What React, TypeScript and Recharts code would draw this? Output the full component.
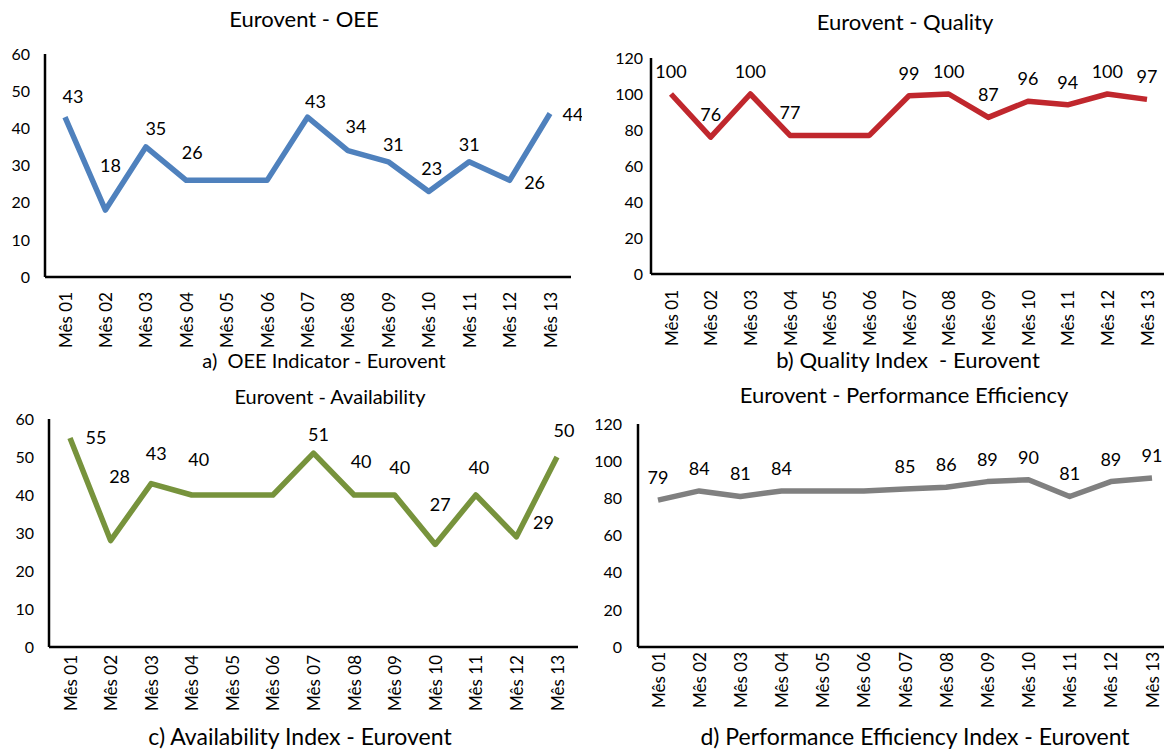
import React from 'react';
import { LineChart, Line, XAxis, YAxis, LabelList } from 'recharts';

const MONTHS = ['Mês 01', 'Mês 02', 'Mês 03', 'Mês 04', 'Mês 05', 'Mês 06', 'Mês 07', 'Mês 08', 'Mês 09', 'Mês 10', 'Mês 11', 'Mês 12', 'Mês 13'];
const OEE = [43, 18, 35, 26, 26, 26, 43, 34, 31, 23, 31, 26, 44];
const QUALITY = [100, 76, 100, 77, 77, 77, 99, 100, 87, 96, 94, 100, 97];
const AVAILABILITY = [55, 28, 43, 40, 40, 40, 51, 40, 40, 27, 40, 29, 50];
const PERFORMANCE = [79, 84, 81, 84, 84, 84, 85, 86, 89, 90, 81, 89, 91];
const TICKS_60 = [0, 10, 20, 30, 40, 50, 60];
const TICKS_120 = [0, 20, 40, 60, 80, 100, 120];
const UNLABELED = ['Mês 05', 'Mês 06'];

// label placement (dx, dy) relative to each point
const OEE_LABEL_POS = [[8, -21], [5, -45], [10, -19], [6, -28], [0, 0], [0, 0], [8, -16], [8, -25], [5, -18], [3, -24], [0, -18], [25, 2], [23, 1]];
const AVAIL_LABEL_POS = [[26, -1], [9, -65], [5, -31], [7, -36], [0, 0], [0, 0], [5, -19], [7, -34], [5, -28], [5, -40], [3, -28], [27, -15], [7, -27]];
const TOP_LABEL_POS = MONTHS.map(() => [0, -23]);

const FONT = 'Lato, "Open Sans", sans-serif';

const makeData = (values: number[]) => MONTHS.map((m, i) => ({ month: m, value: values[i] }));

const RotTick = (props: any) => {
  const { x, y, payload } = props;
  return (
    <text x={x} y={y} transform={`rotate(-90, ${x}, ${y})`} textAnchor="end" dominantBaseline="central" fontSize={17} fill="#000" fontFamily={FONT}>
      {payload.value}
    </text>
  );
};

const makeLabel = (pos: number[][]) => (props: any) => {
  const { x, y, value, index } = props;
  if (UNLABELED.includes(MONTHS[index])) return null;
  const [dx, dy] = pos[index];
  return (
    <text x={x + dx} y={y + dy} textAnchor="middle" dominantBaseline="central" fontSize={18} fill="#000" fontFamily={FONT}>
      {value}
    </text>
  );
};

type Panel = {
  values: number[];
  color: string;
  ticks: number[];
  domain: [number, number];
  title: string;
  caption: string;
  box: { left: number; top: number; width: number; height: number };
  yWidth: number;
  margin: { top: number; right: number; bottom: number; left: number };
  pad: { left: number; right: number };
  yGap: number;
  xGap: number;
  labelPos: number[][];
  titlePos: [number, number, number];
  captionPos: [number, number, number];
};

const PANELS: Panel[] = [
  {
    values: OEE, color: '#4F81BD', ticks: TICKS_60, domain: [0, 60],
    title: 'Eurovent - OEE', caption: 'a)  OEE Indicator - Eurovent',
    box: { left: 0, top: 0, width: 582, height: 380 }, yWidth: 45,
    margin: { top: 54, right: 11, bottom: 23, left: 0 }, pad: { left: 20, right: 21 },
    yGap: 15, xGap: 15, labelPos: OEE_LABEL_POS,
    titlePos: [304, 19, 22], captionPos: [324, 360, 20],
  },
  {
    values: QUALITY, color: '#C0272D', ticks: TICKS_120, domain: [0, 120],
    title: 'Eurovent - Quality', caption: 'b) Quality Index  - Eurovent',
    box: { left: 582, top: 0, width: 582, height: 380 }, yWidth: 69,
    margin: { top: 58, right: 0, bottom: 26, left: 0 }, pad: { left: 20, right: 17 },
    yGap: 8, xGap: 16, labelPos: TOP_LABEL_POS,
    titlePos: [905, 22, 22], captionPos: [908, 360, 22],
  },
  {
    values: AVAILABILITY, color: '#77933C', ticks: TICKS_60, domain: [0, 60],
    title: 'Eurovent - Availability', caption: 'c) Availability Index - Eurovent',
    box: { left: 0, top: 380, width: 582, height: 369 }, yWidth: 49,
    margin: { top: 39, right: 4, bottom: 22, left: 0 }, pad: { left: 21, right: 21 },
    yGap: 15, xGap: 8, labelPos: AVAIL_LABEL_POS,
    titlePos: [330, 396, 20], captionPos: [300, 736, 23],
  },
  {
    values: PERFORMANCE, color: '#808080', ticks: TICKS_120, domain: [0, 120],
    title: 'Eurovent - Performance Efficiency', caption: 'd) Performance Efficiency Index - Eurovent',
    box: { left: 582, top: 380, width: 582, height: 369 }, yWidth: 56,
    margin: { top: 44, right: 0, bottom: 22, left: 0 }, pad: { left: 20, right: 12 },
    yGap: 16, xGap: 5, labelPos: TOP_LABEL_POS,
    titlePos: [904, 395, 22], captionPos: [915, 736, 23],
  },
];

const TextAt = ({ pos, text }: { pos: [number, number, number]; text: string }) => (
  <div
    style={{
      position: 'absolute', left: pos[0] - 300, width: 600, top: pos[1] - 12, height: 24, lineHeight: '24px',
      textAlign: 'center', fontSize: pos[2], fontFamily: FONT, color: '#000', whiteSpace: 'pre',
    }}
  >
    {text}
  </div>
);

const ChartPanel = ({ p }: { p: Panel }) => (
  <div style={{ position: 'absolute', left: p.box.left, top: p.box.top, width: p.box.width, height: p.box.height }}>
    <LineChart width={p.box.width} height={p.box.height} data={makeData(p.values)} margin={p.margin}>
      <XAxis
        dataKey="month" interval={0} height={80} padding={p.pad}
        tick={<RotTick />} tickLine={false} tickSize={0} tickMargin={p.xGap}
        axisLine={{ stroke: '#000', strokeWidth: 2.5 }}
      />
      <YAxis
        width={p.yWidth} domain={p.domain} ticks={p.ticks} interval={0}
        tickLine={false} tickSize={0} tickMargin={p.yGap}
        axisLine={{ stroke: '#000', strokeWidth: 2.5 }}
        tick={{ fill: '#000', fontSize: 16, fontFamily: FONT }}
      />
      <Line
        type="linear" dataKey="value" stroke={p.color} strokeWidth={5.5} strokeLinejoin="round"
        dot={false} activeDot={false} isAnimationActive={false}
      >
        <LabelList dataKey="value" content={makeLabel(p.labelPos)} />
      </Line>
    </LineChart>
  </div>
);

export default function App() {
  return (
    <div style={{ position: 'absolute', left: 0, top: 0, width: 1164, height: 749, background: '#fff', overflow: 'hidden' }}>
      {PANELS.map((p, i) => (
        <React.Fragment key={i}>
          <ChartPanel p={p} />
          <TextAt pos={p.titlePos} text={p.title} />
          <TextAt pos={p.captionPos} text={p.caption} />
        </React.Fragment>
      ))}
    </div>
  );
}
